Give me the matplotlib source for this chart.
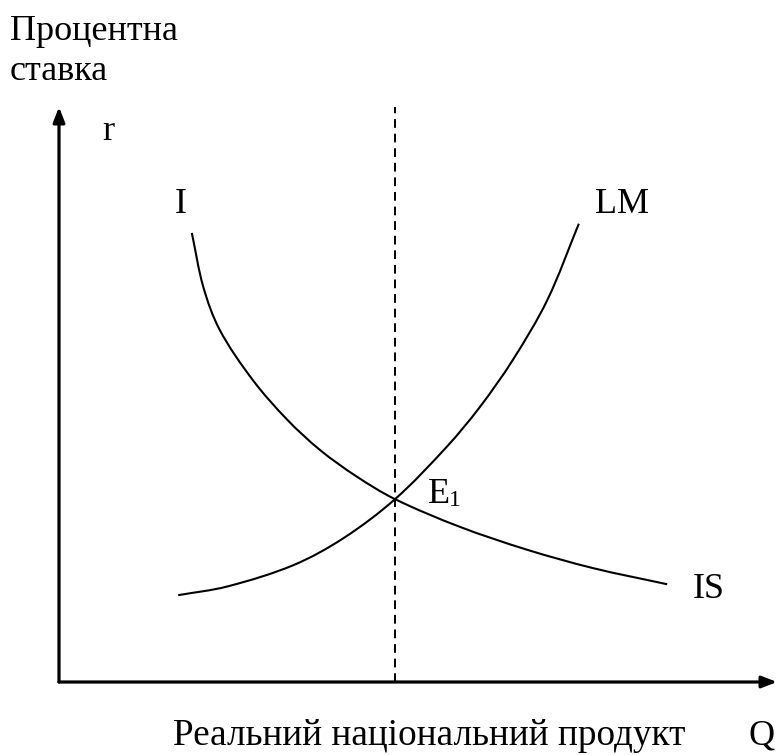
import matplotlib
matplotlib.use("Agg")
import numpy as np
import matplotlib.pyplot as plt
from matplotlib.path import Path
from matplotlib.patches import PathPatch

# Крива IS (реальний продукт Q, процентна ставка r)
is_q = [18.5, 20.1, 22.4, 27.0, 31.8, 36.4, 41.5, 46.8, 55.8, 65.2, 74.4, 84.7]
is_r = [78.1, 68.7, 61.2, 52.5, 45.6, 40.3, 35.7, 31.8, 27.0, 23.0, 19.8, 17.0]

# Крива LM
lm_q = [16.6, 23.4, 32.6, 39.6, 46.8, 54.0, 58.6, 63.2, 68.0, 72.4]
lm_r = [15.1, 16.6, 20.3, 25.0, 31.8, 40.9, 47.8, 56.0, 66.4, 79.7]

# Рівновага E1
eq_q = 46.8
eq_r = 31.8


def smooth_path(xs, ys):
    # гладка крива через точки (дотичні за сусідніми точками -> кубічні Безьє)
    p = np.column_stack([xs, ys]).astype(float)
    n = len(p)
    tang = np.zeros_like(p)
    for i in range(n):
        a = p[max(i - 1, 0)]
        b = p[min(i + 1, n - 1)]
        d = b - a
        tang[i] = d / np.hypot(*d)
    verts = [tuple(p[0])]
    codes = [Path.MOVETO]
    for i in range(n - 1):
        L = np.hypot(*(p[i + 1] - p[i])) / 3
        verts += [tuple(p[i] + tang[i] * L), tuple(p[i + 1] - tang[i + 1] * L), tuple(p[i + 1])]
        codes += [Path.CURVE4] * 3
    return Path(verts, codes)


plt.rcParams['font.family'] = ['Liberation Serif', 'DejaVu Serif']

fig = plt.figure(figsize=(7.77, 7.55), dpi=100)
ax = fig.add_axes([59 / 777, 73 / 755, 718 / 777, 575 / 755])
ax.set_xlim(0, 100)
ax.set_ylim(0, 100)
ax.axis('off')

# осі зі стрілками
arrow = dict(arrowstyle='-|>,head_length=0.9,head_width=0.35', color='black',
             lw=2.3, shrinkA=0, shrinkB=0)
ax.annotate('', xy=(100, 0), xytext=(0, 0), arrowprops=arrow, annotation_clip=False)
ax.annotate('', xy=(0, 100), xytext=(0, 0), arrowprops=arrow, annotation_clip=False)

# криві
for xs, ys in [(is_q, is_r), (lm_q, lm_r)]:
    ax.add_patch(PathPatch(smooth_path(xs, ys), facecolor='none', edgecolor='black',
                           lw=1.5, capstyle='butt', clip_on=False))
ax.plot([eq_q, eq_q], [0, 100], color='black', lw=1.4, dashes=(4.5, 3), clip_on=False)

fs = 26
ax.text(6.0, 94.3, 'r', fontsize=fs, va='baseline', ha='left')
ax.text(17.0, 81.6, 'I', fontsize=fs, va='baseline', ha='center')
ax.text(74.7, 81.6, 'LM', fontsize=fs, va='baseline', ha='left')
ax.text(88.3, 14.6, 'IS', fontsize=fs, va='baseline', ha='left')
ax.text(51.4, 31.1, 'E', fontsize=fs, va='baseline', ha='left')
ax.text(54.3, 30.6, '1', fontsize=17, va='baseline', ha='left')

fig.text(10 / 777, 1 - 40 / 755, 'Процентна', fontsize=fs, va='baseline', ha='left')
fig.text(10 / 777, 1 - 80 / 755, 'ставка', fontsize=fs, va='baseline', ha='left')
fig.text(173 / 777, 1 - 745 / 755, 'Реальний національний продукт', fontsize=26.8,
         va='baseline', ha='left')
fig.text(748 / 777, 1 - 745 / 755, 'Q', fontsize=fs, va='baseline', ha='left')

fig.savefig('out.png', dpi=100, facecolor='white')
